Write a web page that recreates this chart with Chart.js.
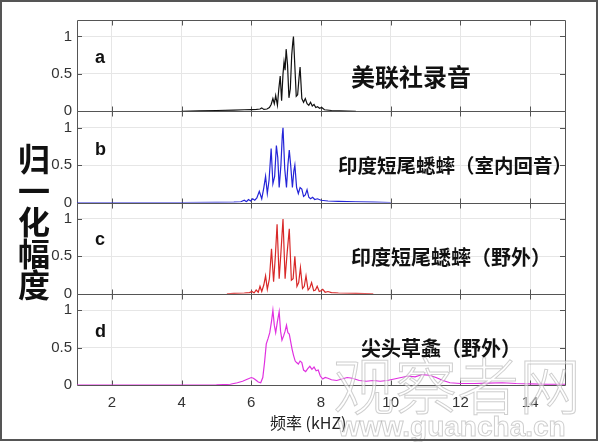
<!DOCTYPE html>
<html>
<head>
<meta charset="utf-8">
<script src="https://cdn.jsdelivr.net/npm/chart.js@4.4.1/dist/chart.umd.min.js"></script>
<style>
  html, body { margin: 0; padding: 0; background: #fff; }
  #wrap { position: relative; width: 600px; height: 442px; overflow: hidden; }
  canvas { position: absolute; left: 0; top: 0; }
  .txt { position: absolute; white-space: nowrap; color: #111; }
  .letter { font: bold 18px 'Liberation Sans', Arial, sans-serif; line-height: 18px; left: 95px; }
  .cjk { font-family: 'Noto Sans CJK SC', sans-serif; font-weight: 700; }
  #ylab { left: 17px; top: 143px; font-size: 32px; line-height: 34px; writing-mode: vertical-rl; letter-spacing: -0.5px; }
  #nameA { left: 351px; top: 64px; font-size: 24px; line-height: 24px; }
  #nameB { left: 338px; top: 155px; font-size: 19.5px; line-height: 20px; }
  #nameC { left: 351px; top: 247px; font-size: 20px; line-height: 20px; }
  #nameD { left: 361px; top: 338px; font-size: 20px; line-height: 20px; }
  #xlab { left: 270px; top: 413px; font: 16px 'Noto Sans CJK SC', sans-serif; line-height: 18px; color: #222; }
  #wm1 { left: 333px; top: 348px; font: 300 62px 'Noto Sans CJK SC', sans-serif; line-height: 70px; color: rgba(255,255,255,0.5); -webkit-text-stroke: 1px rgba(160,160,160,0.5); }
  #wm2 { left: 338px; top: 412px; font: bold 28px 'Liberation Sans', Arial, sans-serif; line-height: 30px; color: rgba(255,255,255,0.5); -webkit-text-stroke: 1px rgba(160,160,160,0.5); }
  #frame { position: absolute; left: 0; top: 0; width: 598px; height: 441px; box-sizing: border-box; border: 2px solid #555; }
</style>
</head>
<body>
<div id="wrap">
  <canvas id="spectra" width="600" height="442"></canvas>
  <div class="txt letter" style="top:48px">a</div>
  <div class="txt letter" style="top:140px">b</div>
  <div class="txt letter" style="top:230px">c</div>
  <div class="txt letter" style="top:322px">d</div>
  <div class="txt cjk" id="ylab">归一化幅度</div>
  <div class="txt cjk" id="nameA">美联社录音</div>
  <div class="txt cjk" id="nameB">印度短尾蟋蟀（室内回音）</div>
  <div class="txt cjk" id="nameC">印度短尾蟋蟀（野外）</div>
  <div class="txt cjk" id="nameD">尖头草螽（野外）</div>
  <div class="txt" id="xlab">频率 (kHZ)</div>
  <div class="txt" id="wm1">观察者网</div>
  <div class="txt" id="wm2">www.guancha.cn</div>
  <div id="frame"></div>
</div>
<script>
const xTicks = [2, 4, 6, 8, 10, 12, 14];
const yTicks = [0, 0.5, 1];

// a: AP recording
const freqA = [4, 4.5, 5, 5.5, 5.8, 6.0, 6.15, 6.25, 6.3, 6.36, 6.45, 6.52, 6.57, 6.62, 6.66, 6.7, 6.75, 6.79,
  6.83, 6.87, 6.91, 6.94, 6.97, 7.0, 7.04, 7.08, 7.12, 7.16, 7.19, 7.21, 7.25, 7.29, 7.33, 7.37, 7.4, 7.45,
  7.5, 7.55, 7.6, 7.65, 7.7, 7.75, 7.8, 7.85, 7.9, 7.96, 8.02, 8.1, 8.3, 9];
const ampA = [0, 0.006, 0.01, 0.015, 0.02, 0.022, 0.025, 0.03, 0.045, 0.025, 0.03, 0.05, 0.09, 0.17, 0.1, 0.21, 0.08, 0.3,
  0.47, 0.14, 0.5, 0.66, 0.55, 0.83, 0.62, 0.18, 0.3, 0.75, 0.92, 1.0, 0.6, 0.2, 0.22, 0.45, 0.59, 0.17,
  0.12, 0.17, 0.1, 0.08, 0.12, 0.07, 0.09, 0.05, 0.06, 0.04, 0.05, 0.02, 0.01, 0];

// b: cricket, indoor echo
const freqB = [1, 4, 5, 5.5, 5.7, 5.8, 5.86, 5.92, 5.98, 6.04, 6.1, 6.16, 6.23, 6.3, 6.36, 6.41, 6.46, 6.51, 6.57, 6.62,
  6.67, 6.72, 6.76, 6.8, 6.85, 6.89, 6.91, 6.96, 7.01, 7.05, 7.09, 7.13, 7.18, 7.22, 7.25, 7.3, 7.35, 7.4, 7.45, 7.5,
  7.55, 7.6, 7.65, 7.7, 7.76, 7.82, 7.9, 8.0, 8.2, 8.5, 9, 9.5, 10];
const ampB = [0, 0, 0.002, 0.005, 0.01, 0.03, 0.01, 0.04, 0.02, 0.05, 0.03, 0.06, 0.15, 0.05, 0.2, 0.35, 0.12, 0.3, 0.72, 0.25,
  0.35, 0.76, 0.6, 0.2, 0.5, 0.9, 1.0, 0.45, 0.2, 0.5, 0.7, 0.5, 0.2, 0.42, 0.5, 0.2, 0.12, 0.2, 0.18, 0.08,
  0.1, 0.17, 0.07, 0.05, 0.07, 0.04, 0.05, 0.03, 0.02, 0.015, 0.01, 0.005, 0];

// c: cricket, outdoors
const freqC = [5.3, 5.5, 5.8, 5.95, 6.02, 6.08, 6.14, 6.2, 6.25, 6.3, 6.36, 6.41, 6.46, 6.52, 6.58, 6.64, 6.69, 6.74,
  6.8, 6.85, 6.91, 6.97, 7.02, 7.09, 7.15, 7.2, 7.25, 7.31, 7.36, 7.41, 7.47, 7.52, 7.57, 7.63, 7.68, 7.73, 7.79, 7.84,
  7.89, 7.95, 8.0, 8.05, 8.12, 8.2, 8.3, 8.5, 9, 9.5];
const ampC = [0, 0.005, 0.01, 0.015, 0.03, 0.01, 0.05, 0.02, 0.1, 0.03, 0.12, 0.24, 0.06, 0.2, 0.6, 0.16, 0.5, 0.93,
  0.2, 0.55, 1.0, 0.2, 0.5, 0.87, 0.18, 0.2, 0.5, 0.1, 0.15, 0.35, 0.07, 0.1, 0.24, 0.05, 0.08, 0.15, 0.04, 0.05,
  0.1, 0.03, 0.04, 0.06, 0.02, 0.03, 0.015, 0.01, 0.005, 0];

// d: katydid, outdoors
const freqD = [1, 4, 5, 5.4, 5.6, 5.75, 5.9, 6.0, 6.06, 6.12, 6.2, 6.27, 6.33, 6.38, 6.43, 6.48, 6.53, 6.58, 6.62, 6.66,
  6.7, 6.75, 6.8, 6.84, 6.88, 6.93, 6.97, 7.01, 7.05, 7.09, 7.13, 7.17, 7.21, 7.26, 7.3, 7.35, 7.4, 7.45, 7.5, 7.56,
  7.62, 7.68, 7.74, 7.8, 7.86, 7.92, 7.98, 8.05, 8.12, 8.2, 8.3, 8.45, 8.6, 8.75, 8.9, 9.1, 9.3, 9.5, 9.7, 9.9,
  10.1, 10.3, 10.5, 10.7, 10.9, 11.1, 11.3, 11.5, 11.7, 12.0, 12.4, 12.8, 13.2, 13.6, 14.0, 14.5, 15];
const ampD = [0, 0, 0.002, 0.01, 0.03, 0.05, 0.08, 0.1, 0.09, 0.07, 0.04, 0.03, 0.1, 0.3, 0.55, 0.62, 0.7, 0.85, 1.0, 0.8,
  0.7, 0.85, 0.98, 0.72, 0.6, 0.66, 0.72, 0.8, 0.7, 0.68, 0.58, 0.48, 0.4, 0.32, 0.3, 0.28, 0.32, 0.3, 0.2, 0.18,
  0.22, 0.25, 0.21, 0.24, 0.19, 0.2, 0.12, 0.08, 0.1, 0.09, 0.07, 0.06, 0.08, 0.1, 0.09, 0.06, 0.05, 0.06, 0.05, 0.06,
  0.08, 0.1, 0.12, 0.11, 0.14, 0.13, 0.1, 0.06, 0.03, 0.02, 0.02, 0.025, 0.03, 0.02, 0.015, 0.01, 0.01];

const panelIds = ['ya', 'yb', 'yc', 'yd'];

function toPoints(fs, as) {
    return fs.map((f, i) => ({ x: f, y: as[i] }));
}

function panelScale() {
    return {
        type: 'linear',
        position: 'left',
        stack: 'panels',
        stackWeight: 1,
        min: 0,
        max: 1.22,
        afterBuildTicks: s => { s.ticks = yTicks.map(v => ({ value: v })); },
        afterFit: s => { s.width = 77; },
        grid: {
            drawTicks: false,
            color: c => (c.tick && c.tick.value === 0) ? 'rgba(0,0,0,0)' : '#e6e6e6'
        },
        border: { display: false },
        ticks: {
            padding: 5, color: '#333', font: { size: 15 },
            callback: v => String(v)
        }
    };
}

/* box round each panel, with inner tick marks */
const panelFrame = {
    id: 'panelFrame',
    beforeDatasetsDraw(chart) {
        const { ctx, chartArea: area, scales } = chart;
        const xs = scales.x;
        ctx.save();
        ctx.strokeStyle = '#555';
        ctx.lineWidth = 1;
        panelIds.forEach(id => {
            const s = scales[id];
            const top = Math.round(s.top) + 0.5;
            const bottom = Math.round(s.bottom) + 0.5;
            ctx.beginPath();
            ctx.rect(Math.round(area.left) + 0.5, top, Math.round(area.width), bottom - top);
            xTicks.forEach(v => {
                const px = Math.round(xs.getPixelForValue(v)) + 0.5;
                ctx.moveTo(px, top); ctx.lineTo(px, top + 5);
                ctx.moveTo(px, bottom); ctx.lineTo(px, bottom - 5);
            });
            yTicks.slice(1).forEach(v => {
                const py = Math.round(s.getPixelForValue(v)) + 0.5;
                ctx.moveTo(area.left, py); ctx.lineTo(area.left + 5, py);
                ctx.moveTo(area.right, py); ctx.lineTo(area.right - 5, py);
            });
            ctx.stroke();
        });
        ctx.restore();
    }
};

Chart.defaults.font.family = "'Liberation Sans', Arial, sans-serif";

const ctx = document.getElementById('spectra').getContext('2d');
const spectra = new Chart(ctx, {
    type: 'line',
    data: {
        datasets: [
            { data: toPoints(freqA, ampA), yAxisID: 'ya', borderColor: '#111' },
            { data: toPoints(freqB, ampB), yAxisID: 'yb', borderColor: '#2424d8' },
            { data: toPoints(freqC, ampC), yAxisID: 'yc', borderColor: '#d82828' },
            { data: toPoints(freqD, ampD), yAxisID: 'yd', borderColor: '#e030e0' }
        ]
    },
    options: {
        responsive: false,
        animation: false,
        devicePixelRatio: 1,
        layout: { padding: { left: 0, right: 35, top: 20, bottom: 0 } },
        datasets: {
            line: { borderWidth: 1.2, pointRadius: 0, tension: 0, fill: false }
        },
        scales: {
            x: {
                type: 'linear',
                min: 1,
                max: 15,
                afterBuildTicks: s => { s.ticks = xTicks.map(v => ({ value: v })); },
                afterFit: s => { s.height = 57; },
                grid: { drawTicks: false, color: '#e6e6e6' },
                border: { display: false },
                ticks: { padding: 9, color: '#333', font: { size: 15 }, maxRotation: 0 }
            },
            yd: panelScale(),
            yc: panelScale(),
            yb: panelScale(),
            ya: panelScale()
        },
        plugins: {
            legend: { display: false },
            tooltip: { enabled: false }
        }
    },
    plugins: [panelFrame]
});
</script>
</body>
</html>
